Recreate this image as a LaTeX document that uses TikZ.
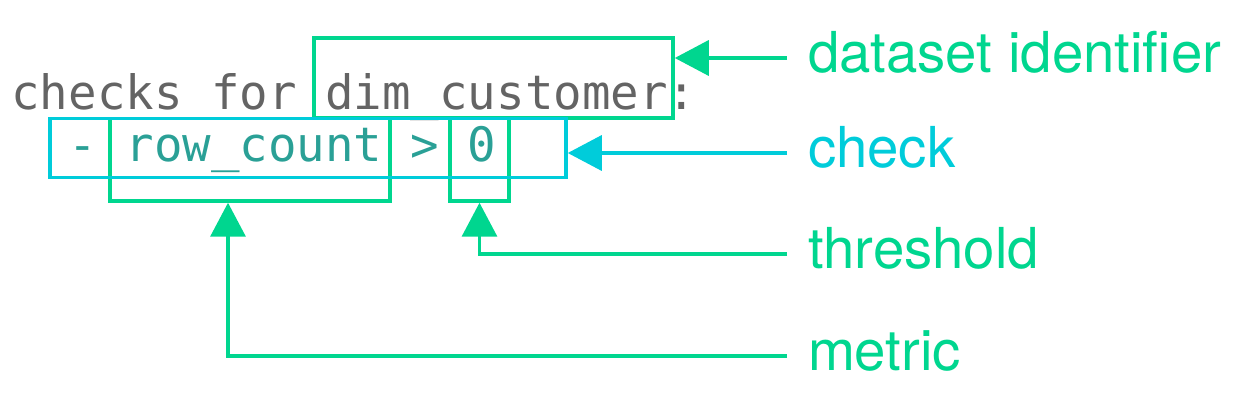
\documentclass[tikz,border=0pt]{standalone}
\usepackage{fontspec}
\setmainfont{TeX Gyre Heros}
\newfontfamily\codefont[RawFeature=+zero]{DejaVu Sans Mono}
\usetikzlibrary{arrows.meta}
\definecolor{sodagreen}{RGB}{0,214,143}
\definecolor{sodacyan}{RGB}{0,204,218}
\definecolor{codeteal}{RGB}{42,160,150}
\definecolor{codegray}{RGB}{100,100,100}
\tikzset{
    code/.style={anchor=base west, inner sep=0pt, font=\codefont\fontsize{23.7}{28}\selectfont},
    gbox/.style={draw=sodagreen, line width=1.75pt, inner sep=0pt},
    cbox/.style={draw=sodacyan, line width=1.75pt, inner sep=0pt},
    tag/.style={anchor=west, inner xsep=10.5pt, inner ysep=0pt, outer sep=0pt, text height=15pt, text depth=0pt, font=\fontsize{28.2}{32}\selectfont},
    garrow/.style={-{Triangle[length=17pt,width=17.5pt]}, line width=1.75pt, sodagreen},
    carrow/.style={-{Triangle[length=17pt,width=17.5pt]}, line width=1.75pt, sodacyan}
}
\begin{document}
\begin{tikzpicture}[x=0.5pt, y=-0.5pt]
        \useasboundingbox (0,0) rectangle (1246,416);
        % code lines
        \node [code, text=codegray] (line1) at (11,110) {checks for dim\_customer:};
        \node [code, text=codeteal] (line2) at (68,162) {- row\_count > 0};
        % boxes round the parts
        \node [gbox, minimum width=179.5pt, minimum height=40pt] (ds) at (493.5,78) {};
        \node [gbox, minimum width=140pt, minimum height=41.25pt] (met) at (250,159.75) {};
        \node [gbox, minimum width=29.5pt, minimum height=41.25pt] (thr) at (479.5,159.75) {};
        \node [cbox, minimum width=258pt, minimum height=29.5pt] (chk) at (308,148) {};
        % labels
        \node [tag, text=sodagreen] (dsl) at (787,58) {dataset identifier};
        \node [tag, text=sodacyan] (chkl) at (787,153) {check};
        \node [tag, text=sodagreen] (thrl) at (787,254) {threshold};
        \node [tag, text=sodagreen] (metl) at (787,356) {metric};
        \draw [garrow] (dsl.west) -- (dsl.west -| ds.east);
        \draw [carrow] (chkl.west) -- (chkl.west -| chk.east);
        \draw [garrow] (thrl.west) -| (thr.south);
        \draw [garrow] (metl.west) -| ([xshift=-11pt]met.south);
\end{tikzpicture}
\end{document}
